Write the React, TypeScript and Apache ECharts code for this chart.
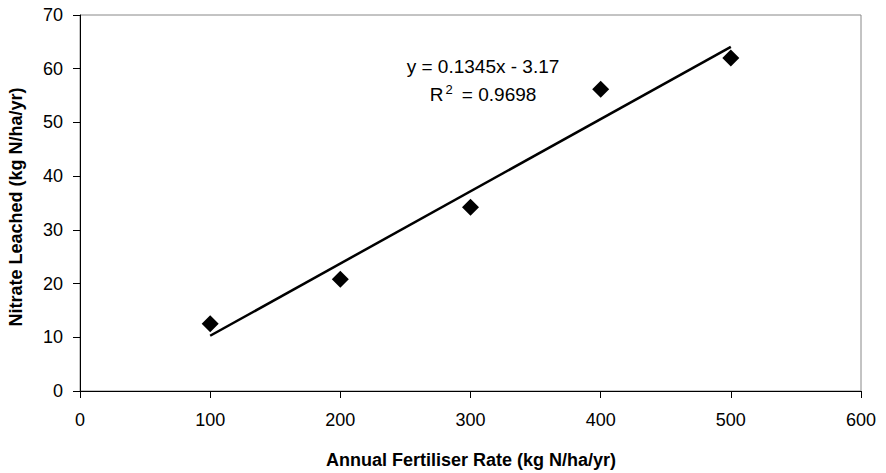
import React, { useEffect, useRef } from "react";
import * as echarts from "echarts";

const fertiliserRates = [100, 200, 300, 400, 500];
const nitrateLeached = [12.5, 20.8, 34.2, 56.2, 62.0];
const trendX = [100, 500];
const slope = 0.1345;
const intercept = -3.17;
const equationText = "y = 0.1345x - 3.17";
const r2Value = "0.9698";
const xTitle = "Annual Fertiliser Rate (kg N/ha/yr)";
const yTitle = "Nitrate Leached (kg N/ha/yr)";

export default function App() {
  const ref = useRef<HTMLDivElement>(null);
  useEffect(() => {
    if (!ref.current) return;
    const chart = echarts.init(ref.current, null, { renderer: "svg" });
    const font = "'Liberation Sans', Arial, sans-serif";
    const scatterData = fertiliserRates.map((x, i) => [x, nitrateLeached[i]]);
    const trendData = trendX.map((x) => [x, slope * x + intercept]);
    chart.setOption({
      animation: false,
      backgroundColor: "#ffffff",
      grid: {
        left: 80,
        top: 15,
        right: 25,
        bottom: 82,
        show: true,
        borderColor: "#888888",
        borderWidth: 1,
        containLabel: false,
        outerBoundsMode: "none",
      },
      xAxis: {
        type: "value",
        min: 0,
        max: 600,
        interval: 100,
        axisLine: { show: true, onZero: false, lineStyle: { color: "#000", width: 1 } },
        axisTick: { show: true, length: 7, inside: false, lineStyle: { color: "#000" } },
        axisLabel: { fontFamily: font, fontSize: 18, color: "#000", margin: 20 },
        splitLine: { show: false },
      },
      yAxis: {
        type: "value",
        min: 0,
        max: 70,
        interval: 10,
        axisLine: { show: true, onZero: false, lineStyle: { color: "#000", width: 1 } },
        axisTick: { show: true, length: 7, inside: false, lineStyle: { color: "#000" } },
        axisLabel: { fontFamily: font, fontSize: 18, color: "#000", margin: 17 },
        splitLine: { show: false },
      },
      series: [
        {
          type: "line",
          data: trendData,
          showSymbol: false,
          symbol: "none",
          lineStyle: { color: "#000", width: 2.5 },
          silent: true,
          z: 2,
        },
        {
          type: "scatter",
          data: scatterData,
          symbol: "diamond",
          symbolSize: [17, 17],
          itemStyle: { color: "#000", opacity: 1 },
          z: 3,
        },
      ],
      graphic: [
        {
          type: "text",
          x: 483,
          y: 66,
          style: {
            text: equationText,
            fontFamily: font,
            fontSize: 19,
            fill: "#000",
            align: "center",
            verticalAlign: "middle",
          },
        },
        {
          type: "text",
          x: 483,
          y: 94,
          style: {
            text: "R{sup|2} = " + r2Value,
            fontFamily: font,
            fontSize: 19,
            fill: "#000",
            align: "center",
            verticalAlign: "middle",
            rich: {
              sup: { fontFamily: font, fontSize: 13, fill: "#000", verticalAlign: "top", padding: [0, 4, 10, 2] },
            },
          },
        },
        {
          type: "text",
          x: 471,
          y: 460,
          style: {
            text: xTitle,
            fontFamily: font,
            fontSize: 18,
            fontWeight: "bold",
            fill: "#000",
            align: "center",
            verticalAlign: "middle",
          },
        },
        {
          type: "text",
          x: 16,
          y: 207,
          rotation: Math.PI / 2,
          style: {
            text: yTitle,
            fontFamily: font,
            fontSize: 18,
            fontWeight: "bold",
            fill: "#000",
            align: "center",
            verticalAlign: "middle",
          },
        },
      ],
    });
    return () => chart.dispose();
  }, []);
  return <div ref={ref} style={{ width: 886, height: 473, marginLeft: -8, marginTop: -8 }} />;
}
